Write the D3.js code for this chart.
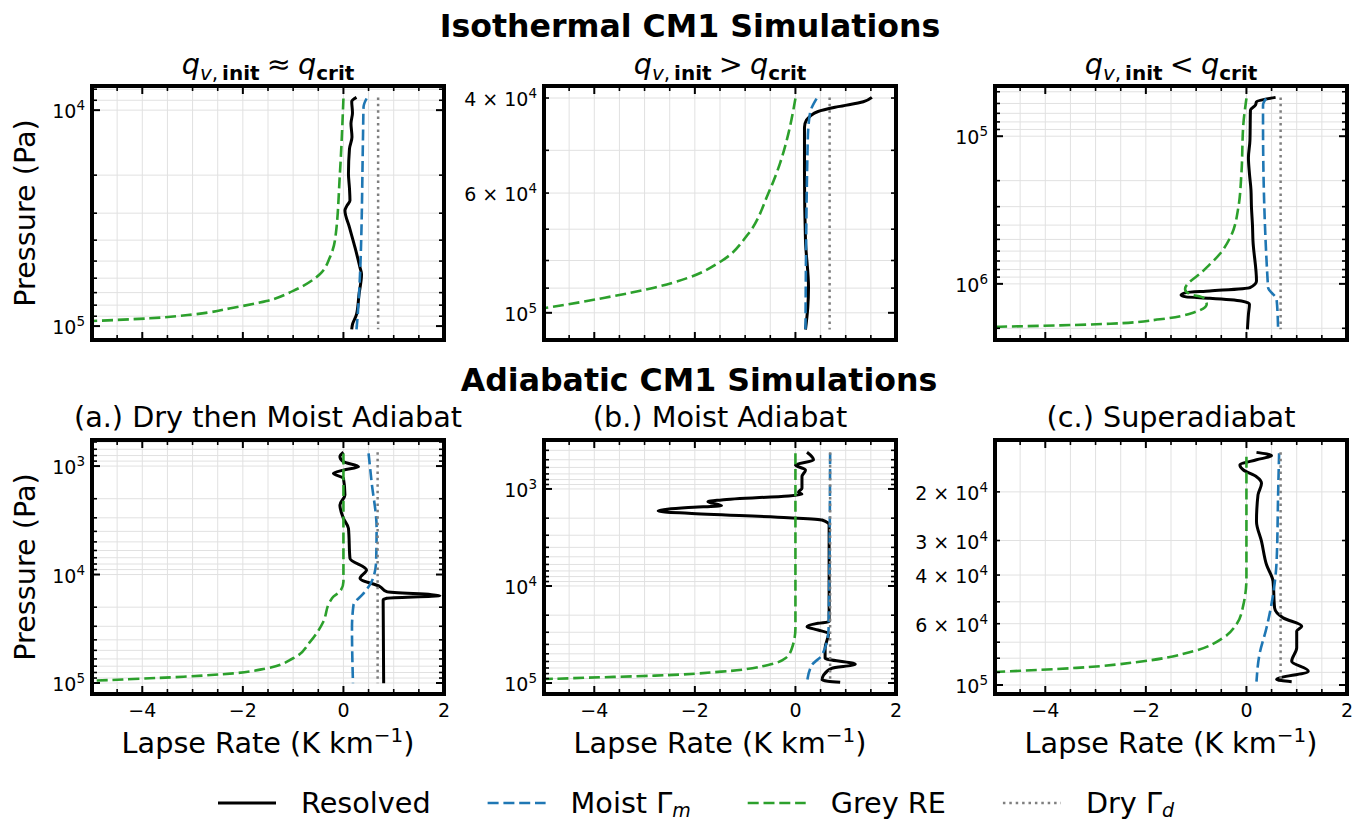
<!DOCTYPE html>
<html><head><meta charset="utf-8">
<script src="https://cdn.jsdelivr.net/npm/d3@7"></script>
<style>
body{margin:0;background:#fff}
text{font-family:"DejaVu Sans",sans-serif;fill:#000}
</style></head><body>
<svg id="fig" width="1362" height="823"></svg>
<script>
// ---- data: [pressure (Pa), lapse rate (K/km)] ----
// isothermal, q ~ qcrit
const isoEqRes = [[8730,0.26],[9120,0.165],[10300,0.18],[11530,0.15],[13300,0.17],[15100,0.12],[19720,0.10],[23000,0.12],[26240,0.13],[27670,0.07],[29170,0.03],[34910,0.12],[43250,0.23],[53580,0.33],[57540,0.36],[71290,0.31],[88310,0.26],[98170,0.18],[103500,0.165]];
const isoEqMoist = [[8830,0.46],[9660,0.40],[13000,0.39],[57540,0.33],[91400,0.28],[103500,0.26]];
const isoEqGrey = [[8830,0.0],[19630,-0.07],[40270,-0.17],[48080,-0.27],[57540,-0.47],[68710,-1.0],[76560,-1.53],[82220,-2.19],[88310,-2.98],[92040,-3.85],[94840,-5.04],[97700,-6.5]];
const isoEqDry = [[8730,0.69],[103500,0.69]];
// isothermal, q > qcrit
const isoGtRes = [[39900,1.52],[40640,1.35],[41500,0.85],[42360,0.45],[43250,0.29],[43950,0.22],[45290,0.18],[55210,0.18],[73450,0.20],[89740,0.26],[97950,0.245],[107400,0.20]];
const isoGtMoist = [[40090,0.42],[42660,0.29],[47860,0.245],[107400,0.20]];
const isoGtGrey = [[40090,0.0],[46560,-0.14],[52970,-0.31],[60120,-0.54],[71450,-0.94],[80170,-1.47],[86100,-2.13],[89740,-2.79],[93760,-3.79],[97950,-4.98],[102300,-6.5]];
const isoGtDry = [[39900,0.68],[107400,0.68]];
// isothermal, q < qcrit
const isoLtRes = [[54580,0.58],[58480,0.20],[61520,0.18],[66530,0.08],[106400,0.07],[140000,0.04],[179500,0.06],[230000,0.09],[302700,0.10],[400000,0.12],[509300,0.13],[955000,0.20],[1059000,0.07],[1117000,-0.73],[1146000,-1.2],[1189000,-1.3],[1225000,-1.2],[1250000,-0.73],[1306000,-0.1],[1374000,0.06],[1607000,0.04],[2032000,0.02]];
const isoLtMoist = [[55460,0.39],[61520,0.33],[82030,0.33],[1059000,0.43],[1271000,0.60],[2032000,0.63]];
const isoLtGrey = [[55460,0.0],[82030,-0.06],[179500,-0.1],[302700,-0.16],[459200,-0.29],[628100,-0.53],[816600,-0.86],[1086000,-1.22],[1175000,-1.12],[1239000,-0.86],[1374000,-0.79],[1567000,-1.06],[1738000,-1.72],[1862000,-2.71],[1910000,-3.71],[1950000,-4.9],[1995000,-6.5]];
const isoLtDry = [[54580,0.68],[2032000,0.68]];
// adiabatic (a) dry then moist
const adDmRes = [[746,0.0],[820,-0.07],[912,0.0],[1014,0.30],[1089,0.0],[1167,-0.2],[1297,0.0],[1849,0.03],[2286,-0.07],[3034,0.0],[3750,0.10],[7096,0.13],[9099,0.46],[10840,0.33],[12940,0.73],[14390,0.86],[15670,1.92],[16560,0.86],[17180,0.79],[100700,0.80]];
const adDmMoist = [[764,0.5],[1396,0.56],[3750,0.66],[7621,0.65],[11640,0.56],[14930,0.40],[19100,0.2],[31330,0.17],[100700,0.19]];
const adDmGrey = [[764,0.0],[11640,0.0],[14390,-0.07],[16000,-0.2],[17820,-0.27],[27230,-0.4],[41590,-0.66],[59160,-1.0],[73280,-1.53],[81470,-2.19],[87500,-3.18],[91830,-4.18],[95060,-5.04],[97700,-6.5]];
const adDmDry = [[746,0.68],[100700,0.68]];
// adiabatic (b) moist
const adMRes = [[419,0.23],[502,0.36],[566,0.0],[637,0.2],[746,0.13],[984,0.13],[1081,0.06],[1135,0.13],[1297,-1.47],[1352,-1.74],[1486,-1.47],[1556,-2.13],[1687,-2.73],[1782,-2.13],[1977,-0.14],[2089,0.53],[2350,0.67],[23330,0.67],[24270,0.45],[26240,0.23],[28440,0.45],[30760,0.66],[43850,0.59],[55590,0.59],[64120,1.19],[70470,0.72],[82790,0.56],[93110,0.53],[98400,0.89]];
const adMMoist = [[429,0.69],[27290,0.66],[51400,0.53],[65160,0.33],[98400,0.23]];
const adMGrey = [[429,0.0],[27290,0.0],[43850,-0.07],[55590,-0.20],[65160,-0.54],[76380,-1.47],[83950,-2.79],[88100,-4.12],[90990,-4.98],[94400,-6.5]];
const adMDry = [[419,0.69],[98400,0.69]];
// adiabatic (c) superadiabat
const adSRes = [[14390,0.2],[14790,0.5],[15310,0.2],[16000,-0.13],[16670,-0.06],[17620,0.2],[18620,0.3],[20510,0.23],[25590,0.2],[30200,0.3],[36730,0.40],[42170,0.53],[52600,0.56],[57150,0.73],[61240,1.1],[63830,1.0],[73280,1.0],[82030,0.9],[89130,1.23],[95500,0.6],[97280,0.9]];
const adSMoist = [[14490,0.65],[20510,0.63],[35730,0.60],[47100,0.53],[62090,0.40],[77450,0.26],[97280,0.20]];
const adSGrey = [[14930,0.0],[41020,0.0],[51170,-0.06],[60390,-0.2],[67450,-0.46],[75510,-1.06],[82030,-2.05],[86700,-3.38],[89540,-4.9],[92260,-6.5]];
const adSDry = [[14390,0.68],[97280,0.68]];

const xDomain = [-5, 2];
const xMajor = [-4, -2, 0, 2];
const rowTitles = ["Isothermal CM1 Simulations", "Adiabatic CM1 Simulations"];
const panelTitles = ["≈", ">", "<", "(a.) Dry then Moist Adiabat", "(b.) Moist Adiabat", "(c.) Superadiabat"];
const yLims = [[116000,7730],[112300,38000],[2.40e6,45700],[126300,575],[129800,313],[107800,12980]];
const yLabelTicks = [[1e4,1e5],[4e4,6e4,1e5],[1e5,1e6],[1e3,1e4,1e5],[1e3,1e4,1e5],[2e4,3e4,4e4,6e4,1e5]];
const seriesNames = ["Resolved", "Moist \u0393", "Grey RE", "Dry \u0393"];
const seriesSubs = [null, "m", null, "d"];

const panelData = [
  [isoEqRes, isoEqMoist, isoEqGrey, isoEqDry],
  [isoGtRes, isoGtMoist, isoGtGrey, isoGtDry],
  [isoLtRes, isoLtMoist, isoLtGrey, isoLtDry],
  [adDmRes, adDmMoist, adDmGrey, adDmDry],
  [adMRes, adMMoist, adMGrey, adMDry],
  [adSRes, adSMoist, adSGrey, adSDry]
];

// ---- styles / layout ----
const styles = [
  {color:"#000000", width:3, dash:null},
  {color:"#1f77b4", width:2.6, dash:"11,4.8"},
  {color:"#2ca02c", width:2.6, dash:"11,4.8"},
  {color:"#7f7f7f", width:2.5, dash:"2.5,3.9"}
];
const colX = [92, 544, 995], rowY = [86, 440], W = 352, H = 254;
const FS = 28.7;

const svg = d3.select("#fig");

function logTicks(lo, hi){
  const out = [];
  for (let e = Math.floor(Math.log10(lo)); e <= Math.ceil(Math.log10(hi)); e++)
    for (let m = 1; m <= 9; m++){
      const v = m * Math.pow(10, e);
      if (v >= lo*0.999 && v <= hi*1.001) out.push({v:v, major:m===1});
    }
  return out;
}

// y tick label like 10^4 or 4 x 10^4
function powLabel(t, v){
  const e = Math.floor(Math.log10(v)+1e-9);
  const m = Math.round(v/Math.pow(10,e));
  t.append("tspan").text(m===1 ? "10" : m+" \u00d7 10");
  t.append("tspan").attr("font-size",13.5).attr("dy",-8).text(e);
}

panelData.forEach((series, i) => {
  const col = i % 3, row = Math.floor(i / 3);
  const x0 = colX[col], y0 = rowY[row];
  const g = svg.append("g").attr("transform", `translate(${x0},${y0})`);
  const x = d3.scaleLinear().domain(xDomain).range([0, W]);
  const y = d3.scaleLog().domain(yLims[i]).range([H, 0]);
  const lo = Math.min(...yLims[i]), hi = Math.max(...yLims[i]);
  const yt = logTicks(lo, hi);
  const xMinor = d3.range(xDomain[0], xDomain[1]+0.01, 0.5).filter(v => !xMajor.includes(v));

  // grid
  const grid = g.append("g").attr("stroke","#e1e1e1").attr("stroke-width",1);
  grid.selectAll(".gx").data(xMinor.concat(xMajor)).join("line")
    .attr("x1", d=>x(d)).attr("x2", d=>x(d)).attr("y1",0).attr("y2",H);
  grid.selectAll(".gy").data(yt).join("line")
    .attr("x1",0).attr("x2",W).attr("y1", d=>y(d.v)).attr("y2", d=>y(d.v));

  // lines
  const cid = "clip"+i;
  g.append("clipPath").attr("id",cid).append("rect").attr("width",W).attr("height",H);
  const line = d3.line().x(d=>x(d[1])).y(d=>y(d[0])).curve(d3.curveMonotoneY);
  series.forEach((s, k) => {
    const st = styles[k];
    g.append("path").attr("clip-path",`url(#${cid})`)
      .attr("d", line(s.slice().sort((a,b)=>a[0]-b[0])))
      .attr("fill","none").attr("stroke",st.color).attr("stroke-width",st.width)
      .attr("stroke-dasharray",st.dash).attr("stroke-linejoin","round");
  });

  // ticks (inward, all four sides)
  const tk = g.append("g").attr("stroke","#000");
  [[0,1],[H,-1]].forEach(([yy,dir]) => {
    tk.selectAll(null).data(xMajor).join("line").attr("stroke-width",2)
      .attr("x1",d=>x(d)).attr("x2",d=>x(d)).attr("y1",yy).attr("y2",yy+dir*8);
    tk.selectAll(null).data(xMinor).join("line").attr("stroke-width",1.6)
      .attr("x1",d=>x(d)).attr("x2",d=>x(d)).attr("y1",yy).attr("y2",yy+dir*5);
  });
  [[0,1],[W,-1]].forEach(([xx,dir]) => {
    tk.selectAll(null).data(yt).join("line").attr("stroke-width",d=>d.major?2:1.6)
      .attr("y1",d=>y(d.v)).attr("y2",d=>y(d.v)).attr("x1",xx).attr("x2",d=>xx+dir*(d.major?8:5));
  });

  // spines
  g.append("rect").attr("width",W).attr("height",H).attr("fill","none")
    .attr("stroke","#000").attr("stroke-width",4);

  // y tick labels
  yLabelTicks[i].forEach(v => {
    const t = g.append("text").attr("x",-7).attr("y",y(v)+8)
      .attr("text-anchor","end").attr("font-size",19);
    powLabel(t, v);
  });

  // x tick labels + xlabel (bottom row only)
  if (row === 1){
    xMajor.forEach(v => g.append("text").attr("x",x(v)).attr("y",H+23)
      .attr("text-anchor","middle").attr("font-size",19).text(v<0 ? "\u2212"+Math.abs(v) : v));
    const xl = g.append("text").attr("x",W/2).attr("y",H+59).attr("text-anchor","middle").attr("font-size",FS);
    xl.append("tspan").text("Lapse Rate (K km");
    xl.append("tspan").attr("font-size",20).attr("dy",-11).text("\u22121");
    xl.append("tspan").attr("dy",11).text(")");
  }
  if (col === 0){
    g.append("text").attr("transform",`translate(${35-x0},${H/2}) rotate(-90)`)
      .attr("text-anchor","middle").attr("font-size",FS).text("Pressure (Pa)");
  }

  // panel titles
  const tt = g.append("text").attr("x",W/2).attr("y", row===0 ? -12 : -13)
    .attr("text-anchor","middle").attr("font-size",FS);
  if (row === 0){
    tt.append("tspan").attr("font-style","italic").text("q");
    tt.append("tspan").attr("font-style","italic").attr("font-size",20).attr("dy",6).text("v");
    tt.append("tspan").attr("font-size",20).text(",\u2009");
    tt.append("tspan").attr("font-size",20).attr("font-weight","bold").text("init");
    tt.append("tspan").attr("dy",-6).text("\u2005"+panelTitles[i]+"\u2005");
    tt.append("tspan").attr("font-style","italic").text("q");
    tt.append("tspan").attr("font-size",20).attr("font-weight","bold").attr("dy",6).text("crit");
  } else {
    tt.text(panelTitles[i]);
  }
});

// row titles
[[690,37],[699,391]].forEach(([xx,yy], r) => svg.append("text").attr("x",xx).attr("y",yy)
  .attr("text-anchor","middle").attr("font-size",31.6).attr("font-weight","bold").text(rowTitles[r]));

// legend (subscripts as separate text)
const leg = svg.append("g").attr("transform","translate(218,803)");
let cx = 0;
seriesNames.forEach((name, k) => {
  const st = styles[k];
  leg.append("line").attr("x1",cx).attr("x2",cx+58).attr("y1",0).attr("y2",0)
    .attr("stroke",st.color).attr("stroke-width",st.width).attr("stroke-dasharray",st.dash);
  const t = leg.append("text").attr("x",cx+83).attr("y",10).attr("font-size",FS).text(name);
  let w = t.node().getComputedTextLength();
  if (seriesSubs[k]){
    const s = leg.append("text").attr("x",cx+83+w).attr("y",14).attr("font-size",19)
      .attr("font-style","italic").text(seriesSubs[k]);
    w += s.node().getComputedTextLength();
  }
  cx += 83 + w + 57;
});
</script>
</body></html>
